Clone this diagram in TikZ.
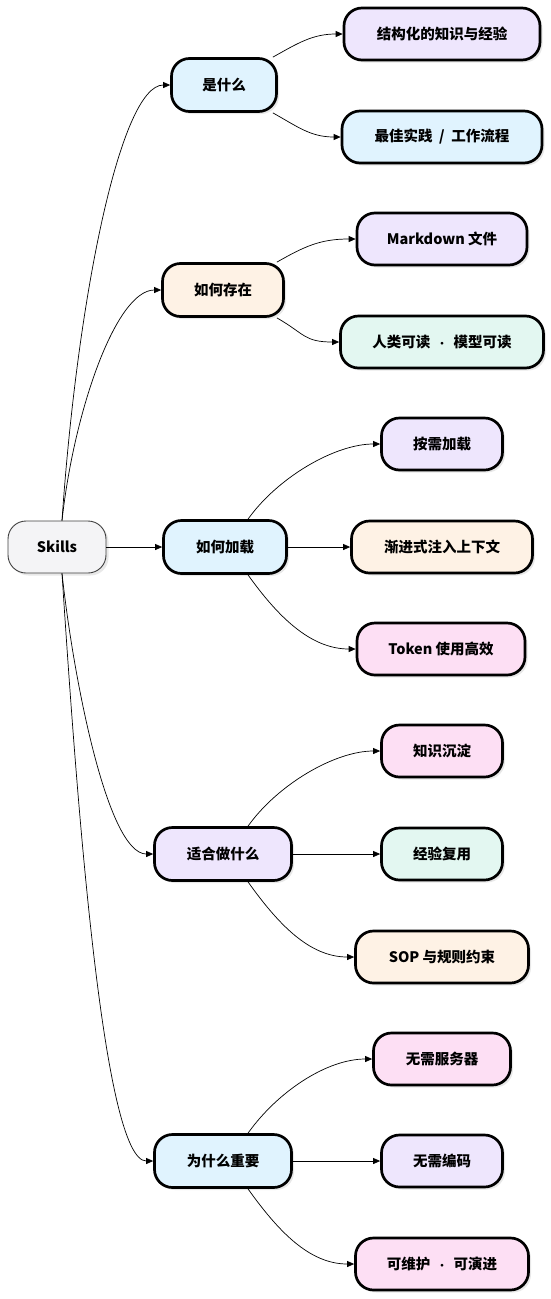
\documentclass[tikz,border=0pt]{standalone}
\usepackage{fontspec}
\setmainfont{Noto Sans CJK SC}
\usepackage{tikz}
\usetikzlibrary{arrows.meta,shadows,calc}
\definecolor{sblue}{RGB}{224,243,254}
\definecolor{spurple}{RGB}{238,230,253}
\definecolor{sorange}{RGB}{254,242,229}
\definecolor{smint}{RGB}{227,247,241}
\definecolor{spink}{RGB}{253,223,244}
\definecolor{sgray}{RGB}{244,244,246}
\newcommand{\mdot}{\ \ {\fontsize{10}{12}\selectfont ·}\ \ }
\tikzset{
  rootbox/.style={draw=black!75,line width=0.9pt,rounded corners=18pt,fill=sgray,minimum height=52pt,align=center,font=\fontsize{14.5}{17}\selectfont\bfseries,
    drop shadow={shadow xshift=2.5pt,shadow yshift=-2.5pt,opacity=0.18}},
  topicbox/.style={draw,line width=2.7pt,rounded corners=18pt,fill=#1,minimum height=53pt,align=center,font=\fontsize{14.5}{17}\selectfont\bfseries,
    drop shadow={shadow xshift=2.5pt,shadow yshift=-2.5pt,opacity=0.18}},
  leafbox/.style={draw,line width=2.7pt,rounded corners=18pt,fill=#1,minimum height=52pt,align=center,font=\fontsize{14.5}{17}\selectfont\bfseries,
    drop shadow={shadow xshift=2.5pt,shadow yshift=-2.5pt,opacity=0.18}},
}

\begin{document}
\begin{tikzpicture}[
    x=1pt,y=1pt,
    arr/.style={-{Triangle[length=7pt,width=6pt]},line width=0.7pt},
  ]
  \useasboundingbox (0,0) rectangle (551,-1299);

  \node[rootbox,minimum width=98pt] (skills) at (57,-547) {Skills};

  % what
  \node[topicbox=sblue,minimum width=105pt] (what) at (224,-85) {是什么};
  \node[leafbox=spurple,minimum width=196pt] (what_a) at (442,-34) {结构化的知识与经验};
  \node[leafbox=sblue,minimum width=200pt] (what_b) at (442,-137) {最佳实践\ \ /\ \ 工作流程};
  \draw[arr] ([xshift=5pt]skills.north) .. controls +(15,220) and +(-50,0) .. (what.west);
  \draw[arr] ([xshift=-5pt]what.north east) .. controls +(25,14) and +(-30,0) .. (what_a.west);
  \draw[arr] ([xshift=-5pt]what.south east) .. controls +(25,-14) and +(-30,0) .. (what_b.west);

  % store
  \node[topicbox=sorange,minimum width=121pt] (store) at (223,-290) {如何存在};
  \node[leafbox=spurple,minimum width=170pt] (store_a) at (442,-239) {Markdown 文件};
  \node[leafbox=smint,minimum width=203pt] (store_b) at (442,-342) {人类可读\mdot 模型可读};
  \draw[arr] ([xshift=5pt]skills.north) .. controls +(12,110) and +(-45,0) .. (store.west);
  \draw[arr] ([xshift=-8pt]store.north east) .. controls +(28,16) and +(-35,0) .. (store_a.west);
  \draw[arr] ([xshift=-8pt]store.south east) .. controls +(28,-16) and +(-35,0) .. (store_b.west);

  % load
  \node[topicbox=sblue,minimum width=123pt] (load) at (225,-547) {如何加载};
  \node[leafbox=spurple,minimum width=121pt] (load_a) at (442,-444) {按需加载};
  \node[leafbox=sorange,minimum width=181pt] (load_b) at (442,-547) {渐进式注入上下文};
  \node[leafbox=spink,minimum width=168pt] (load_c) at (441,-649) {Token 使用高效};
  \draw[arr] (skills.east) -- (load.west);
  \draw[arr] ([xshift=23pt]load.north) .. controls +(30,42) and +(-45,0) .. (load_a.west);
  \draw[arr] (load.east) -- (load_b.west);
  \draw[arr] ([xshift=23pt]load.south) .. controls +(30,-42) and +(-45,0) .. (load_c.west);

  % use
  \node[topicbox=spurple,minimum width=137pt] (use) at (223,-854) {适合做什么};
  \node[leafbox=spink,minimum width=121pt] (use_a) at (442,-751) {知识沉淀};
  \node[leafbox=smint,minimum width=121pt] (use_b) at (442,-854) {经验复用};
  \node[leafbox=sorange,minimum width=173pt] (use_c) at (442,-957) {SOP 与规则约束};
  \draw[arr] ([xshift=5pt]skills.south) .. controls +(12,-110) and +(-45,0) .. (use.west);
  \draw[arr] ([xshift=25pt]use.north) .. controls +(30,42) and +(-45,0) .. (use_a.west);
  \draw[arr] (use.east) -- (use_b.west);
  \draw[arr] ([xshift=25pt]use.south) .. controls +(30,-42) and +(-45,0) .. (use_c.west);

  % why
  \node[topicbox=sblue,minimum width=137pt] (why) at (223,-1161) {为什么重要};
  \node[leafbox=spink,minimum width=137pt] (why_a) at (442,-1059) {无需服务器};
  \node[leafbox=spurple,minimum width=121pt] (why_b) at (442,-1161) {无需编码};
  \node[leafbox=spink,minimum width=173pt] (why_c) at (442,-1264) {可维护\mdot 可演进};
  \draw[arr] ([xshift=5pt]skills.south) .. controls +(15,-230) and +(-50,0) .. (why.west);
  \draw[arr] ([xshift=25pt]why.north) .. controls +(30,42) and +(-45,0) .. (why_a.west);
  \draw[arr] (why.east) -- (why_b.west);
  \draw[arr] ([xshift=25pt]why.south) .. controls +(30,-42) and +(-45,0) .. (why_c.west);
\end{tikzpicture}
\end{document}
